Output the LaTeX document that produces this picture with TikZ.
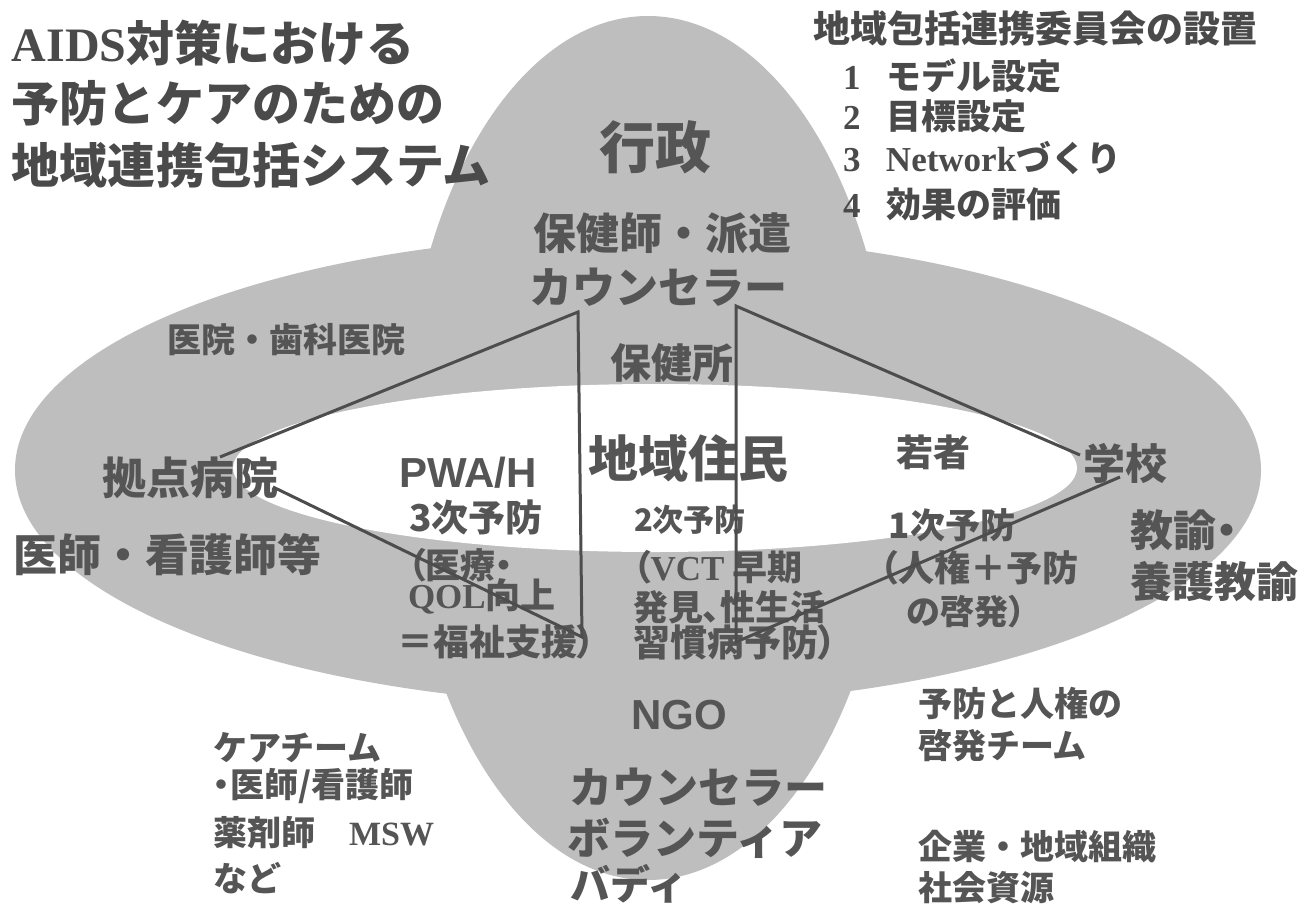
\documentclass[tikz,border=0pt]{standalone}
\usepackage{fontspec}
\setmainfont{Liberation Serif}
\newfontfamily\jp{Noto Sans CJK JP}
\newfontfamily\jpp[RawFeature=+palt]{Noto Sans CJK JP}
\newfontfamily\lsans{Liberation Sans}
\newcommand\myfs[1]{\fontsize{#1pt}{#1pt}\selectfont}
\newcommand\lat[1]{{\rmfamily #1}}
\definecolor{txtgray}{HTML}{555555}
\definecolor{titlegray}{HTML}{4A4A4A}
\definecolor{ellgray}{HTML}{BEBEBE}
\definecolor{linegray}{HTML}{4D4D4D}
\tikzset{
  base/.style={inner sep=0pt, outer sep=0pt, text=txtgray},
  gt/.style={base, font=\jp\bfseries\myfs{#1}},
  gp/.style={base, font=\jpp\bfseries\myfs{#1}},
  ls/.style={base, font=\lsans\bfseries\myfs{#1}},
  ttl/.style={base, text=titlegray, anchor=west, font=\jp\bfseries\myfs{48}},
  ellfill/.style={fill=ellgray},
  conn/.style={draw=linegray, line width=3pt, line join=miter},
}
\begin{document}
\begin{tikzpicture}[x=1pt,y=-1pt]
\useasboundingbox (0,0) rectangle (1306,907);
\fill[white] (0,0) rectangle (1306,907);
% background shapes
\fill[ellfill] (638,470) ellipse [x radius=623pt, y radius=235pt];
\fill[ellfill] (648,448) ellipse [x radius=245pt, y radius=432pt];
\fill[white] (655,468) ellipse [x radius=422pt, y radius=84pt];

% title
\node[ttl] (t1) at (12,43) {\lat{AIDS}対策における};
\node[ttl] (t2) at (12,103) {予防とケアのための};
\node[ttl] (t3) at (12,165) {地域連携包括システム};

% committee list
\node[gt=37, anchor=west, text=titlegray] (c0) at (813,28) {地域包括連携委員会の設置};
\node[gt=35, anchor=west, text=titlegray] (c1) at (843,76) {\makebox[43pt][l]{\lat{1}}モデル設定};
\node[gt=35, anchor=west, text=titlegray] (c2) at (843,116) {\makebox[43pt][l]{\lat{2}}目標設定};
\node[gt=35, anchor=west, text=titlegray] (c3) at (843,158) {\makebox[43pt][l]{\lat{3}}\lat{Network}づくり};
\node[gt=35, anchor=west, text=titlegray] (c4) at (843,204) {\makebox[43pt][l]{\lat{4}}効果の評価};

% administration
\node[gt=56] (gyosei) at (655,147) {行政};
\node[gt=43] (hokenshi) at (662,233) {保健師・派遣};
\node[gt=43] (counsel) at (658,287) {カウンセラー};
\node[gt=41] (hokenjo) at (672,363) {保健所};

% left
\node[gt=34, anchor=west] (iin) at (167,340) {医院・歯科医院};
\node[gt=44] (hosp) at (190,478) {拠点病院};
\node[gt=44] (ishi) at (167,555) {医師・看護師等};

% PWA/H
\node[ls=42] (pwah) at (468,473) {PWA/H};
\node[gt=37] (p3) at (476,517) {3次予防};
\node[gp=35, anchor=west] (p3a) at (408,565) {（医療・};
\node[gp=35, anchor=west] (p3b) at (408,596) {\lat{QOL}向上};
\node[gp=36, anchor=west] (p3c) at (397,642) {＝福祉支援）};

% residents
\node[gt=50] (jumin) at (688,458) {地域住民};
\node[gt=31] (p2) at (690,520) {2次予防};
\node[gp=35, anchor=west] (p2a) at (633,567) {（\lat{VCT} 早期};
\node[gp=35, anchor=west] (p2b) at (633,607) {発見、性生活};
\node[gp=37, anchor=west] (p2c) at (633,642) {習慣病予防）};

% youth
\node[gt=37] (wakamono) at (933,452) {若者};
\node[gt=35] (p1) at (952,525) {1次予防};
\node[gp=36, anchor=west] (p1a) at (880,568) {（人権＋予防};
\node[gp=34, anchor=west] (p1b) at (907,612) {の啓発）};

% school
\node[gt=42] (school) at (1125,463) {学校};
\node[gp=43, anchor=west] (kyoyu) at (1130,530) {教諭・};
\node[gt=42, anchor=west] (yogo) at (1130,582) {養護教諭};

% NGO
\node[ls=42] (ngo) at (679,715) {NGO};
\node[gt=43] (counsel2) at (698,787) {カウンセラー};
\node[gt=43] (volunteer) at (695,838) {ボランティア};
\node[gt=40, anchor=west] (buddy) at (570,884) {バディ};

% care team
\node[gt=34, anchor=west] (care1) at (213,748) {ケアチーム};
\node[gp=34, anchor=west] (care2) at (213,786) {・医師/看護師};
\node[gt=34, anchor=west] (care3) at (213,833) {薬剤師　\lat{MSW}};
\node[gt=34, anchor=west] (care4) at (213,878) {など};

% prevention team
\node[gt=34, anchor=west] (prev1) at (918,703) {予防と人権の};
\node[gt=34, anchor=west] (prev2) at (918,746) {啓発チーム};
\node[gt=34, anchor=west] (corp1) at (918,847) {企業・地域組織};
\node[gt=34, anchor=west] (corp2) at (918,888) {社会資源};

% connectors
\coordinate (hA) at (220,457);
\coordinate (hB) at (273,487);
\coordinate (lT) at (578,312);
\coordinate (lB) at (582,637);
\coordinate (rT) at (736,306);
\coordinate (rB) at (736,642);
\coordinate (sA) at (1080,455);
\coordinate (sB) at (1120,477);
\draw[conn] (hA) -- (lT) -- (lB) -- (hB);
\draw[conn] (sA) -- (rT) -- (rB) -- (sB);
\end{tikzpicture}
\end{document}
